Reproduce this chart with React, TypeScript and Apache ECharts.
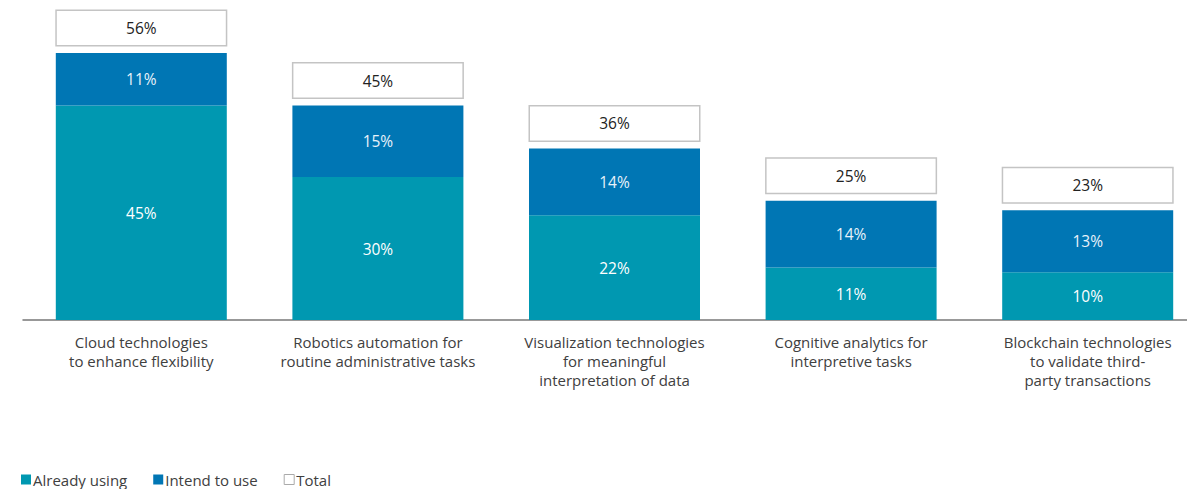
import React, { useEffect, useRef } from "react";
import * as echarts from "echarts";

const categories = [
  "Cloud technologies\nto enhance flexibility",
  "Robotics automation for\nroutine administrative tasks",
  "Visualization technologies\nfor meaningful\ninterpretation of data",
  "Cognitive analytics for\ninterpretive tasks",
  "Blockchain technologies\nto validate third-\nparty transactions",
];
const alreadyUsing = [45, 30, 22, 11, 10];
const intendToUse = [11, 15, 14, 14, 13];
const totals = [56, 45, 36, 25, 23];

const FONT = "'Open Sans', 'Noto Sans', sans-serif";
const TEAL = "#0098B1";
const BLUE = "#0076B4";
const FS = 15.5;

export default function App() {
  const ref = useRef<HTMLDivElement>(null);
  useEffect(() => {
    document.body.style.margin = "0";
    const chart = echarts.init(ref.current!, null, { renderer: "svg" });
    chart.setOption({
      animation: false,
      textStyle: { fontFamily: FONT },
      grid: { left: 23, width: 1183, top: 34, height: 286, outerBoundsMode: "none", containLabel: false },
      legend: {
        left: 21,
        top: 471,
        padding: 0,
        itemWidth: 10,
        itemHeight: 10,
        itemGap: 26,
        icon: "rect",
        textStyle: { fontFamily: FONT, fontSize: 15, color: "#404040", lineHeight: 17, padding: [0, 0, 0, -3] },
        data: [
          { name: "Already using", itemStyle: { color: TEAL } },
          { name: "Intend to use", itemStyle: { color: BLUE } },
          { name: "Total", itemStyle: { color: "#fff", borderColor: "#aaa", borderWidth: 1 } },
        ],
      },
      xAxis: {
        type: "category",
        data: categories,
        axisLine: { lineStyle: { color: "#777", width: 1.5 } },
        axisTick: { show: false },
        axisLabel: {
          interval: 0,
          margin: 12,
          fontFamily: FONT,
          fontSize: 15,
          color: "#404040",
          lineHeight: 19,
        },
      },
      yAxis: { type: "value", min: 0, max: 60, show: false, splitLine: { show: false } },
      series: [
        {
          name: "Already using",
          type: "bar",
          stack: "s",
          barWidth: 171,
          data: alreadyUsing,
          itemStyle: { color: TEAL },
          label: { show: true, position: "inside", formatter: "{c}%", color: "#fff", fontSize: FS, fontFamily: FONT },
        },
        {
          name: "Intend to use",
          type: "bar",
          stack: "s",
          barWidth: 171,
          data: intendToUse,
          itemStyle: { color: BLUE },
          label: { show: true, position: "inside", formatter: "{c}%", color: "#e8f2fa", fontSize: FS, fontFamily: FONT },
        },
        {
          name: "Total",
          type: "bar",
          barWidth: 171,
          barGap: "-100%",
          data: totals,
          itemStyle: { color: "rgba(0,0,0,0)" },
          z: 1,
          label: {
            show: true,
            position: "top",
            distance: 8,
            formatter: "{c}%",
            color: "#222",
            fontSize: FS,
            fontFamily: FONT,
            backgroundColor: "#fff",
            borderColor: "#c4c4c4",
            borderWidth: 1.5,
            width: 169,
            height: 34,
            lineHeight: 34,
            align: "center",
            padding: 0,
          },
        },
      ],
    });
    return () => chart.dispose();
  }, []);
  return <div ref={ref} style={{ width: 1187, height: 489 }} />;
}
